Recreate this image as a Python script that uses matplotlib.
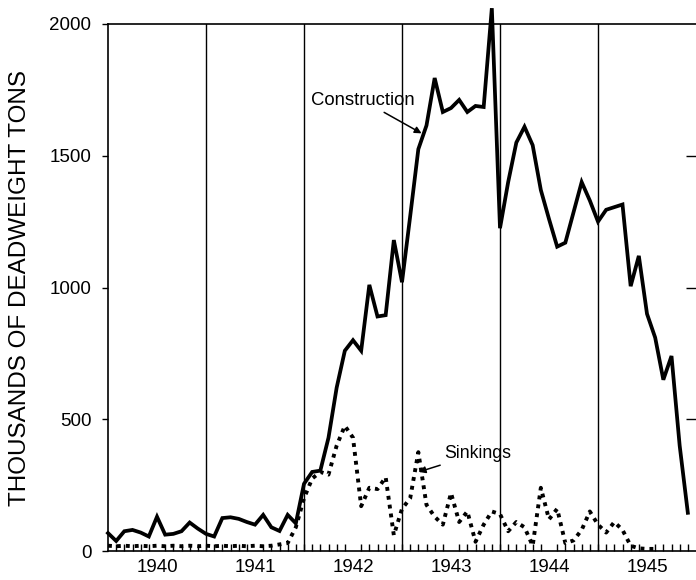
import matplotlib
matplotlib.use("Agg")
import matplotlib.pyplot as plt
import numpy as np

plt.rcParams['font.family'] = ['Liberation Sans', 'DejaVu Sans']

years = [1940, 1941, 1942, 1943, 1944, 1945]
year_labels = ["1940", "1941", "1942", "1943", "1944", "1945"]

# Monthly values, thousands of deadweight tons, starting January 1940
construction = [
    68, 38, 75, 80, 70, 55, 130, 62, 65, 75, 108, 85,            # 1940
    65, 55, 125, 128, 122, 110, 100, 137, 90, 76, 137, 105,      # 1941
    255, 300, 305, 430, 620, 760, 800, 760, 1010, 890, 895, 1180,  # 1942
    1020, 1270, 1525, 1615, 1795, 1666, 1681, 1712, 1666, 1689, 1685, 2060,  # 1943
    1225, 1400, 1550, 1610, 1540, 1370, 1260, 1155, 1170, 1285, 1400, 1330,  # 1944
    1250, 1295, 1305, 1315, 1005, 1120, 900, 810, 650, 740, 400, 145,  # 1945
]
sinkings = [
    20, 18, 20, 18, 20, 18, 20, 18, 20, 18, 20, 18,              # 1940
    20, 18, 20, 18, 20, 18, 20, 18, 20, 25, 30, 90,              # 1941
    200, 275, 300, 290, 400, 475, 430, 170, 240, 235, 280, 60,   # 1942
    160, 200, 375, 175, 130, 100, 220, 110, 150, 35, 100, 150,   # 1943
    140, 75, 110, 90, 20, 240, 120, 160, 30, 40, 80, 150,        # 1944
    100, 70, 110, 80, 20, 10, 8, 8,                              # 1945
]

x_con = 1940 + np.arange(len(construction)) / 12.0
x_sink = 1940 + np.arange(len(sinkings)) / 12.0

fig = plt.figure(figsize=(6.96, 5.80), dpi=100)
ax = fig.add_axes([108 / 696, 29 / 580, 588 / 696, 527 / 580])

ax.plot(x_con, construction, color='black', lw=2.7, solid_joinstyle='miter',
        clip_on=False, zorder=3)
ax.plot(x_sink, sinkings, color='black', lw=2.8, linestyle=(0, (1, 1.3)),
        clip_on=False, zorder=3)

for yr in years[1:]:
    ax.axvline(yr, color='black', lw=1.0, zorder=1)

ax.set_xlim(1940, 1946)
ax.set_ylim(0, 2000)

# y axis
ax.set_yticks([0, 500, 1000, 1500, 2000])
ax.set_yticklabels(["0", "500", "1000", "1500", "2000"])
ax.tick_params(axis='y', direction='out', length=4, width=1, labelsize=13.5, pad=8)
ax.set_ylabel("THOUSANDS OF DEADWEIGHT TONS", fontsize=17.5, labelpad=13)

# right side inward ticks without spine
axr = ax.twinx()
axr.set_ylim(0, 2000)
axr.set_yticks([500, 1000, 1500])
axr.tick_params(axis='y', direction='in', length=7, width=1, labelright=False)
for s in axr.spines.values():
    s.set_visible(False)

# x axis: year labels centred, monthly minor ticks
ax.set_xticks([y + 0.5 for y in years])
ax.set_xticklabels(year_labels)
ax.tick_params(axis='x', which='major', length=0, labelsize=13.5, pad=6)
ax.set_xticks(1940 + np.arange(1, 72) / 12.0, minor=True)
ax.tick_params(axis='x', which='minor', direction='in', length=5, width=1)

ax.spines['right'].set_visible(False)
for s in ['left', 'top', 'bottom']:
    ax.spines[s].set_linewidth(1.2)

ax.annotate("Construction", xy=(1943.2, 1585), xytext=(1942.6, 1710),
            fontsize=13.3, ha='center', va='center',
            arrowprops=dict(arrowstyle='-|>', color='black', lw=1.1, mutation_scale=10,
                            shrinkA=1, shrinkB=0))
ax.annotate("Sinkings", xy=(1943.17, 300), xytext=(1943.77, 370),
            fontsize=12.8, ha='center', va='center',
            arrowprops=dict(arrowstyle='-|>', color='black', lw=1.1, mutation_scale=10,
                            shrinkA=1, shrinkB=0))

fig.savefig("out.png", dpi=100)
